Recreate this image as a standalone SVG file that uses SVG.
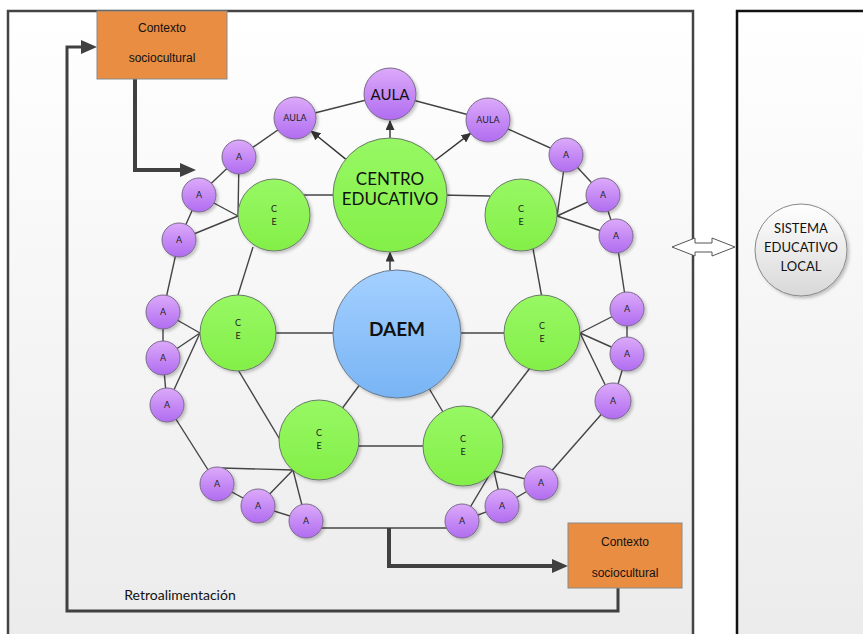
<svg xmlns="http://www.w3.org/2000/svg" width="863" height="634" viewBox="0 0 863 634">
<defs>
<linearGradient id="gFrame" x1="0" y1="0" x2="0" y2="1"><stop offset="0" stop-color="#ffffff"/><stop offset="1" stop-color="#ebebeb"/></linearGradient>
<linearGradient id="gPurple" x1="0" y1="0" x2="0" y2="1"><stop offset="0" stop-color="#dcaafa"/><stop offset="1" stop-color="#b06cf0"/></linearGradient>
<linearGradient id="gGreen" x1="0" y1="0" x2="0" y2="1"><stop offset="0" stop-color="#97f864"/><stop offset="1" stop-color="#84ef48"/></linearGradient>
<linearGradient id="gBlue" x1="0" y1="0" x2="0" y2="1"><stop offset="0" stop-color="#a4d0ff"/><stop offset="1" stop-color="#78b4f4"/></linearGradient>
<linearGradient id="gGray" x1="0" y1="0" x2="0" y2="1"><stop offset="0" stop-color="#ffffff"/><stop offset="1" stop-color="#d8d8d8"/></linearGradient>
<filter id="sh" x="-20%" y="-20%" width="150%" height="150%"><feDropShadow dx="2" dy="2" stdDeviation="1.5" flood-color="#000" flood-opacity="0.22"/></filter>
<marker id="mThin" viewBox="0 0 10 9" refX="9" refY="4.5" markerWidth="10" markerHeight="9" markerUnits="userSpaceOnUse" orient="auto"><path d="M0,0 L10,4.5 L0,9 Z" fill="#333"/></marker>
<marker id="mBig" viewBox="0 0 16 14" refX="6" refY="7" markerWidth="16" markerHeight="14" markerUnits="userSpaceOnUse" orient="auto"><path d="M0,0 L16,7 L0,14 Z" fill="#404040"/></marker>
</defs>
<style>
.frame{fill:url(#gFrame);stroke:#444;stroke-width:2.5}
.frame2{fill:url(#gFrame);stroke:#111;stroke-width:2.5}
.edge{stroke:#444;stroke-width:1.4;fill:none}
.arr{stroke:#333;stroke-width:1.4;fill:none;marker-end:url(#mThin)}
.thick{stroke:#404040;stroke-width:4;fill:none;marker-end:url(#mBig)}
.fb{stroke:#404040;stroke-width:3;fill:none;marker-end:url(#mBig)}
.a{fill:url(#gPurple);stroke:#7a6a8a;stroke-width:1;filter:url(#sh)}
.ce{fill:url(#gGreen);stroke:#6a7a6a;stroke-width:1;filter:url(#sh)}
.daem{fill:url(#gBlue);stroke:#6a7a8a;stroke-width:1;filter:url(#sh)}
.sis{fill:url(#gGray);stroke:#888;stroke-width:1;filter:url(#sh)}
.box{fill:#e88d42;stroke:#8a8a8a;stroke-width:1}
.t{font-family:Lato,"Open Sans",sans-serif;fill:#111;text-anchor:middle}
.ta{font-family:Lato,"Open Sans",sans-serif;fill:#222;text-anchor:middle;font-size:9px}
.tb{font-family:"Liberation Sans",Arial,sans-serif;fill:#111;text-anchor:middle;font-size:12px}
</style>
<rect class="frame" x="8" y="11" width="685" height="640"/>
<rect class="frame2" x="737" y="11" width="140" height="640"/>
<text class="t" x="180" y="600" font-size="14" style="text-anchor:middle">Retroalimentación</text>

<g id="connectors">
<line class="edge" x1="295" y1="118" x2="390" y2="94"/>
<line class="edge" x1="390" y1="94" x2="488" y2="120"/>
<line class="edge" x1="295" y1="118" x2="239" y2="157"/>
<line class="edge" x1="239" y1="157" x2="199" y2="195"/>
<line class="edge" x1="199" y1="195" x2="179" y2="240"/>
<line class="edge" x1="179" y1="240" x2="163" y2="312"/>
<line class="edge" x1="163" y1="312" x2="163" y2="358"/>
<line class="edge" x1="163" y1="358" x2="167" y2="405"/>
<line class="edge" x1="167" y1="405" x2="217" y2="484"/>
<line class="edge" x1="217" y1="484" x2="258" y2="506"/>
<line class="edge" x1="258" y1="506" x2="306" y2="521"/>
<line class="edge" x1="306" y1="528" x2="462" y2="528"/>
<line class="edge" x1="462" y1="521" x2="502" y2="506"/>
<line class="edge" x1="502" y1="506" x2="541" y2="483"/>
<line class="edge" x1="541" y1="483" x2="613" y2="401"/>
<line class="edge" x1="613" y1="401" x2="627" y2="354"/>
<line class="edge" x1="627" y1="354" x2="627" y2="309"/>
<line class="edge" x1="627" y1="309" x2="616" y2="236"/>
<line class="edge" x1="616" y1="236" x2="603" y2="195"/>
<line class="edge" x1="603" y1="195" x2="566" y2="155"/>
<line class="edge" x1="566" y1="155" x2="488" y2="120"/>
<!-- CE top-left -->
<line class="edge" x1="239" y1="157" x2="238" y2="216"/>
<line class="edge" x1="199" y1="195" x2="238" y2="216"/>
<line class="edge" x1="179" y1="240" x2="238" y2="216"/>
<line class="edge" x1="300" y1="195" x2="340" y2="195"/>
<line class="edge" x1="253" y1="247" x2="237" y2="298"/>
<!-- CE top-right -->
<line class="edge" x1="566" y1="155" x2="557" y2="216"/>
<line class="edge" x1="603" y1="195" x2="557" y2="216"/>
<line class="edge" x1="616" y1="236" x2="557" y2="216"/>
<line class="edge" x1="440" y1="195" x2="490" y2="196"/>
<line class="edge" x1="532" y1="243" x2="542" y2="298"/>
<!-- CE mid-left -->
<line class="edge" x1="163" y1="312" x2="200" y2="333"/>
<line class="edge" x1="163" y1="358" x2="200" y2="333"/>
<line class="edge" x1="167" y1="405" x2="200" y2="333"/>
<line class="edge" x1="270" y1="333" x2="340" y2="333"/>
<line class="edge" x1="237" y1="368" x2="282" y2="443"/>
<!-- CE mid-right -->
<line class="edge" x1="627" y1="309" x2="580" y2="333"/>
<line class="edge" x1="627" y1="354" x2="580" y2="333"/>
<line class="edge" x1="613" y1="401" x2="580" y2="333"/>
<line class="edge" x1="455" y1="333" x2="510" y2="333"/>
<line class="edge" x1="530" y1="368" x2="490" y2="420"/>
<!-- CE bottom-left -->
<line class="edge" x1="222" y1="468" x2="293" y2="470"/>
<line class="edge" x1="258" y1="506" x2="293" y2="470"/>
<line class="edge" x1="306" y1="521" x2="293" y2="470"/>
<line class="edge" x1="397" y1="334" x2="319" y2="440"/>
<line class="edge" x1="350" y1="446" x2="430" y2="446"/>
<!-- CE bottom-right -->
<line class="edge" x1="541" y1="483" x2="494" y2="471"/>
<line class="edge" x1="502" y1="506" x2="494" y2="471"/>
<line class="edge" x1="462" y1="521" x2="490" y2="474"/>
<line class="edge" x1="397" y1="334" x2="463" y2="446"/>
<!-- arrows from CENTRO EDUCATIVO / DAEM -->
<line class="arr" x1="390" y1="138" x2="390" y2="121"/>
<line class="arr" x1="345.7" y1="159.1" x2="311.3" y2="131.2"/>
<line class="arr" x1="435.3" y1="160.3" x2="470.5" y2="133.4"/>
<line class="arr" x1="390" y1="270.5" x2="390" y2="252.5"/>
<!-- thick arrows -->
<path class="thick" d="M135,79 V170 H186"/>
<path class="thick" d="M389,528 V566 H558"/>
<path class="fb" d="M618,588 V611 H67 V47 H87"/>
</g>

<g id="dblarrow">
<path d="M672,247 L695,238 L695,243 L712,243 L712,238 L735,247 L712,256 L712,252 L695,252 L695,256 Z" fill="#fff" stroke="#555" stroke-width="1"/>
</g>

<g id="ctx-top"><rect class="box" x="97" y="11" width="130" height="68"/><text class="tb" x="162" y="32">Contexto</text><text class="tb" x="162" y="62">sociocultural</text></g>
<g id="ctx-bottom"><rect class="box" x="568" y="523" width="114" height="65"/><text class="tb" x="625" y="546">Contexto</text><text class="tb" x="625" y="577">sociocultural</text></g>

<g id="sistema"><circle class="sis" cx="801" cy="250" r="46"/><text class="t" x="801" y="233" font-size="13">SISTEMA</text><text class="t" x="801" y="252" font-size="13">EDUCATIVO</text><text class="t" x="801" y="271" font-size="13">LOCAL</text></g>

<g id="aula"><circle class="a" cx="390" cy="94" r="26"/><text class="t" x="390" y="99.5" font-size="15">AULA</text></g>
<g id="aula-l"><circle class="a" cx="295" cy="118" r="21"/><text class="ta" x="295" y="121">AULA</text></g>
<g id="aula-r"><circle class="a" cx="488" cy="120" r="22"/><text class="ta" x="488" y="123">AULA</text></g>

<g id="centro"><circle class="ce" cx="390" cy="195" r="57"/><text class="t" x="390" y="185" font-size="17">CENTRO</text><text class="t" x="390" y="205" font-size="17">EDUCATIVO</text></g>
<g id="daem"><circle class="daem" cx="397" cy="334" r="64"/><text class="t" x="397" y="336" font-size="19" font-weight="bold">DAEM</text></g>

<g id="ce-tl"><circle class="ce" cx="274" cy="215" r="36"/><text class="ta" x="274" y="212" font-size="8">C</text><text class="ta" x="274" y="225" font-size="8">E</text></g>
<g id="ce-tr"><circle class="ce" cx="521" cy="215" r="36"/><text class="ta" x="521" y="212" font-size="8">C</text><text class="ta" x="521" y="225" font-size="8">E</text></g>
<g id="ce-ml"><circle class="ce" cx="238" cy="333" r="38"/><text class="ta" x="238" y="326" font-size="8">C</text><text class="ta" x="238" y="339" font-size="8">E</text></g>
<g id="ce-mr"><circle class="ce" cx="542" cy="333" r="38"/><text class="ta" x="542" y="329" font-size="8">C</text><text class="ta" x="542" y="342" font-size="8">E</text></g>
<g id="ce-bl"><circle class="ce" cx="319" cy="440" r="40"/><text class="ta" x="319" y="436" font-size="8">C</text><text class="ta" x="319" y="449" font-size="8">E</text></g>
<g id="ce-br"><circle class="ce" cx="463" cy="446" r="40"/><text class="ta" x="463" y="442" font-size="8">C</text><text class="ta" x="463" y="455" font-size="8">E</text></g>

<g id="a1"><circle class="a" cx="239" cy="157" r="17"/><text class="ta" x="239" y="160">A</text></g>
<g id="a2"><circle class="a" cx="199" cy="195" r="17"/><text class="ta" x="199" y="198">A</text></g>
<g id="a3"><circle class="a" cx="179" cy="240" r="17"/><text class="ta" x="179" y="243">A</text></g>
<g id="a4"><circle class="a" cx="163" cy="312" r="17"/><text class="ta" x="163" y="315">A</text></g>
<g id="a5"><circle class="a" cx="163" cy="358" r="17"/><text class="ta" x="163" y="361">A</text></g>
<g id="a6"><circle class="a" cx="167" cy="405" r="17"/><text class="ta" x="167" y="408">A</text></g>
<g id="a7"><circle class="a" cx="217" cy="484" r="17"/><text class="ta" x="217" y="487">A</text></g>
<g id="a8"><circle class="a" cx="258" cy="506" r="17"/><text class="ta" x="258" y="509">A</text></g>
<g id="a9"><circle class="a" cx="306" cy="521" r="17"/><text class="ta" x="306" y="524">A</text></g>
<g id="a10"><circle class="a" cx="462" cy="521" r="17"/><text class="ta" x="462" y="524">A</text></g>
<g id="a11"><circle class="a" cx="502" cy="506" r="17"/><text class="ta" x="502" y="509">A</text></g>
<g id="a12"><circle class="a" cx="541" cy="483" r="17"/><text class="ta" x="541" y="486">A</text></g>
<g id="a13"><circle class="a" cx="613" cy="401" r="18"/><text class="ta" x="613" y="404">A</text></g>
<g id="a14"><circle class="a" cx="627" cy="354" r="17"/><text class="ta" x="627" y="357">A</text></g>
<g id="a15"><circle class="a" cx="627" cy="309" r="17"/><text class="ta" x="627" y="312">A</text></g>
<g id="a16"><circle class="a" cx="616" cy="236" r="17"/><text class="ta" x="616" y="239">A</text></g>
<g id="a17"><circle class="a" cx="603" cy="195" r="17"/><text class="ta" x="603" y="198">A</text></g>
<g id="a18"><circle class="a" cx="566" cy="155" r="17"/><text class="ta" x="566" y="158">A</text></g>
</svg>
